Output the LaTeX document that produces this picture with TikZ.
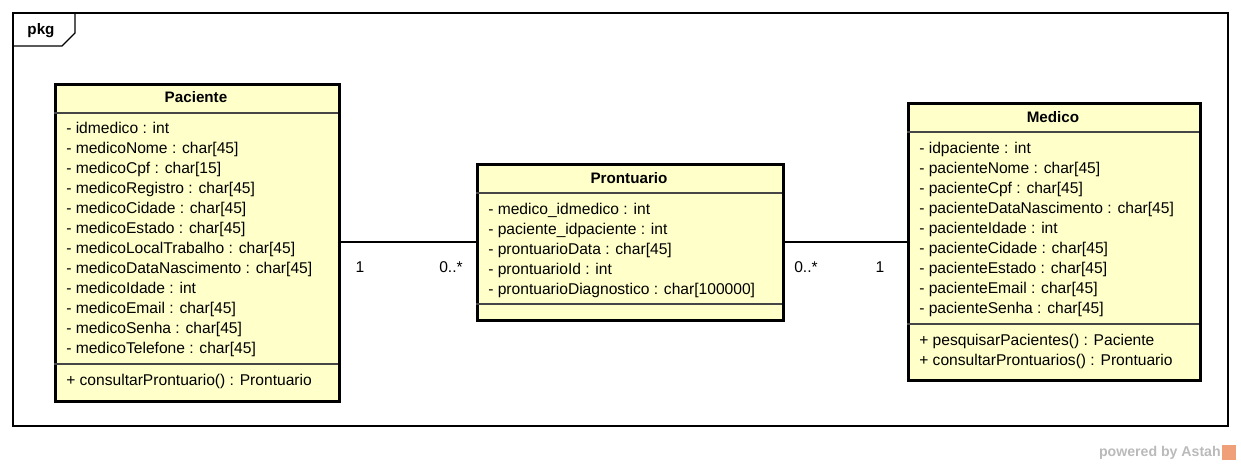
\documentclass[tikz,border=0pt]{standalone}
\usepackage{fontspec}
\setmainfont{Liberation Sans}
\definecolor{umlfill}{RGB}{255,255,202}
\definecolor{sepgray}{RGB}{70,70,70}
\definecolor{astahorange}{RGB}{240,160,120}

\begin{document}
\begin{tikzpicture}[x=0.75pt,y=-0.75pt,
	classbox/.style={draw,line width=2.25pt,fill=umlfill,inner sep=0pt,anchor=north west},
	title/.style={font=\bfseries\fontsize{11.4}{13}\selectfont,inner sep=0pt,text height=8.4pt,text depth=2.4pt},
	attr/.style={font=\fontsize{11.7}{13}\selectfont,anchor=west,inner sep=0pt,text height=8.6pt,text depth=2.4pt},
	sep/.style={draw=sepgray,line width=0.9pt},
	mult/.style={font=\fontsize{11.7}{13}\selectfont,inner sep=0pt}]
\useasboundingbox (0,0) rectangle (1241,466);

\draw[line width=0.8pt] (13,13) rectangle (1228,426);
\draw[line width=0.8pt] (13,46) -- (62,46) -- (75,33) -- (75,13);
\node[title] (pkg) at (41,31) {pkg};

\node[classbox,minimum width=213pt,minimum height=237.75pt] (paciente) at (54,83) {};
\node[classbox,minimum width=229.5pt,minimum height=117pt] (prontuario) at (476,163) {};
\node[classbox,minimum width=219pt,minimum height=207.75pt] (medico) at (907,102) {};

\node[title] (paciente title) at (196,99) {Paciente};
\draw[sep] (54,113) -- (338,113);
\foreach \t [count=\i from 0] in {- idmedico : int,- medicoNome : char[45],- medicoCpf : char[15],
	- medicoRegistro : char[45],- medicoCidade : char[45],- medicoEstado : char[45],
	- medicoLocalTrabalho : char[45],- medicoDataNascimento : char[45],- medicoIdade : int,
	- medicoEmail : char[45],- medicoSenha : char[45],- medicoTelefone : char[45]} {
	\node[attr] (paciente a\i) at (66,{129+20*\i}) {\t};
}
\draw[sep] (54,364) -- (338,364);
\node[attr] (paciente o0) at (66,381) {+ consultarProntuario() : Prontuario};

\node[title] (prontuario title) at (629,180) {Prontuario};
\draw[sep] (476,193) -- (782,193);
\foreach \t [count=\i from 0] in {- medico\_idmedico : int,- paciente\_idpaciente : int,
	- prontuarioData : char[45],- prontuarioId : int,- prontuarioDiagnostico : char[100000]} {
	\node[attr] (prontuario a\i) at (488,{210+20*\i}) {\t};
}
\draw[sep] (476,304) -- (782,304);

\node[title] (medico title) at (1053,119) {Medico};
\draw[sep] (907,132) -- (1199,132);
\foreach \t [count=\i from 0] in {- idpaciente : int,- pacienteNome : char[45],- pacienteCpf : char[45],
	- pacienteDataNascimento : char[45],- pacienteIdade : int,- pacienteCidade : char[45],
	- pacienteEstado : char[45],- pacienteEmail : char[45],- pacienteSenha : char[45]} {
	\node[attr] (medico a\i) at (919,{149+20*\i}) {\t};
}
\draw[sep] (907,324) -- (1199,324);
\node[attr] (medico o0) at (919,341) {+ pesquisarPacientes() : Paciente};
\node[attr] (medico o1) at (919,361) {+ consultarProntuarios() : Prontuario};

\draw[line width=0.8pt] (paciente.east |- medico.west) -- (prontuario.west |- medico.west);
\draw[line width=0.8pt] (prontuario.east |- medico.west) -- (medico.west);
\node[mult] (m1) at (360,267) {1};
\node[mult] (m2) at (451,267) {0..*};
\node[mult] (m3) at (806,267) {0..*};
\node[mult] (m4) at (880,267) {1};

\node[font=\bfseries\fontsize{10.6}{12}\selectfont,text=black!27,anchor=east,inner sep=0pt] (astah) at (1221,453) {powered by Astah};
\fill[astahorange] (1222,445) rectangle (1236,460);
\end{tikzpicture}
\end{document}
